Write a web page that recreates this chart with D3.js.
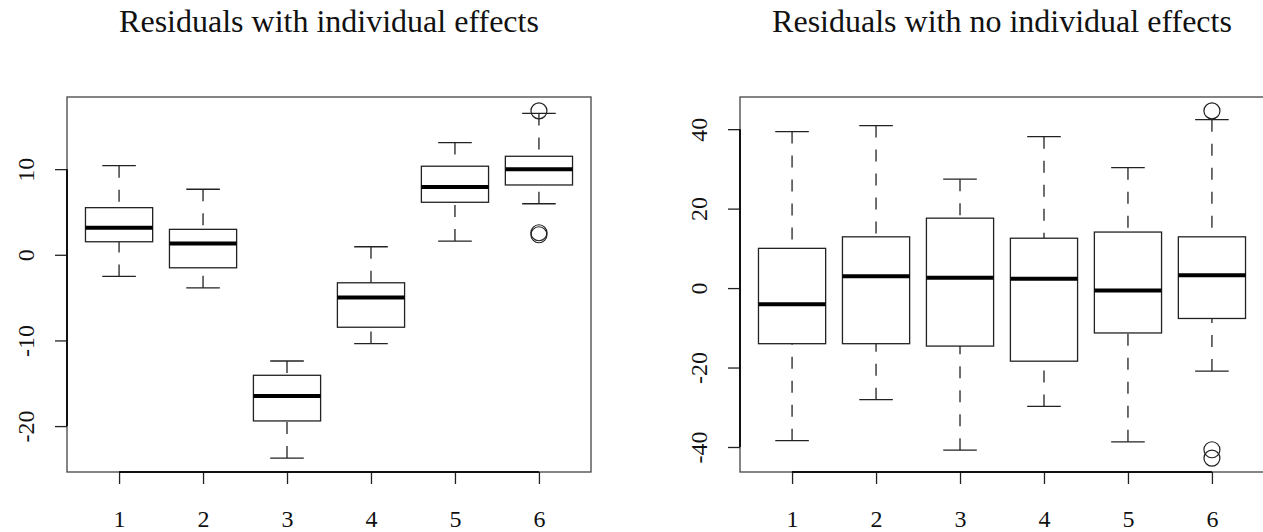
<!DOCTYPE html>
<html>
<head>
<meta charset="utf-8">
<script src="https://cdn.jsdelivr.net/npm/d3@7"></script>
<style>
  html, body { margin: 0; padding: 0; background: #fff; }
  svg { display: block; }
  svg text { font-family: "Liberation Serif", "DejaVu Serif", serif; fill: #111; }
</style>
</head>
<body>
<svg id="chart" width="1263" height="532"></svg>
<script>
// ---- Data ----
const categories = ["1", "2", "3", "4", "5", "6"];

// Panel 1: residuals with individual effects
const title1 = "Residuals with individual effects";
const lowWhisker1 = [-2.53, -3.86, -23.74, -10.37, 1.60, 5.96];
const q1_1        = [1.52, -1.52, -19.40, -8.46, 6.13, 8.15];
const median1     = [3.16, 1.33, -16.50, -4.98, 7.92, 9.99];
const q3_1        = [5.50, 2.97, -14.07, -3.27, 10.34, 11.50];
const highWhisker1= [10.40, 7.65, -12.40, 0.94, 13.10, 16.50];
const outliers1   = [[], [], [], [], [], [16.80, 2.57, 2.34]];
const yTicks1 = [-20, -10, 0, 10];

// Panel 2: residuals with no individual effects
const title2 = "Residuals with no individual effects";
const lowWhisker2 = [-38.4, -28.1, -40.8, -29.8, -38.7, -20.9];
const q1_2        = [-14.0, -14.0, -14.6, -18.4, -11.3, -7.65];
const median2     = [-4.1, 3.0, 2.6, 2.36, -0.6, 3.2];
const q3_2        = [10.0, 12.9, 17.6, 12.55, 14.1, 12.9];
const highWhisker2= [39.4, 40.9, 27.4, 38.1, 30.3, 42.4];
const outliers2   = [[], [], [], [], [], [44.6, -40.7, -42.8]];
const yTicks2 = [-40, -20, 0, 20, 40];

// ---- Drawing ----
const svg = d3.select("#chart");
const plotTop = 97, plotBottom = 472, plotWidth = 524;
const FONT_TICK = 24, FONT_TITLE = 32;
const SERIF = '"Liberation Serif", "DejaVu Serif", serif';

function panel(left, title, lw, q1, med, q3, hw, outs, yTicks) {
  const g = svg.append("g");
  const right = left + plotWidth;

  // R-like 4% range extension
  const allVals = [].concat(lw, hw, ...outs);
  const lo = d3.min(allVals), hi = d3.max(allVals);
  const ext = (hi - lo) * 0.04;
  const y = d3.scaleLinear().domain([lo - ext, hi + ext]).range([plotBottom, plotTop]);
  const n = categories.length;
  const xe = n * 0.04;
  const x = d3.scaleLinear().domain([0.5 - xe / 2, n + 0.5 + xe / 2]).range([left, right]);
  const boxW = x(1.4) - x(1.0);   // boxwex 0.8 -> half width 0.4
  const capW = x(1.2) - x(1.0);   // staple half width 0.2

  const data = categories.map((c, i) => ({
    c, i, pos: i + 1, lw: lw[i], q1: q1[i], med: med[i], q3: q3[i], hw: hw[i], outs: outs[i]
  }));

  const boxes = g.selectAll("g.box").data(data).join("g").attr("class", "box");

  // whiskers (dashed, drawn from whisker end toward box)
  boxes.append("line")
    .attr("x1", d => x(d.pos)).attr("x2", d => x(d.pos))
    .attr("y1", d => y(d.hw)).attr("y2", d => y(d.q3))
    .attr("stroke", "#222").attr("stroke-width", 1.3).attr("stroke-dasharray", "12,12");
  boxes.append("line")
    .attr("x1", d => x(d.pos)).attr("x2", d => x(d.pos))
    .attr("y1", d => y(d.lw)).attr("y2", d => y(d.q1))
    .attr("stroke", "#222").attr("stroke-width", 1.3).attr("stroke-dasharray", "12,12");
  // staples
  boxes.append("line")
    .attr("x1", d => x(d.pos) - capW).attr("x2", d => x(d.pos) + capW)
    .attr("y1", d => y(d.hw)).attr("y2", d => y(d.hw))
    .attr("stroke", "#222").attr("stroke-width", 1.3);
  boxes.append("line")
    .attr("x1", d => x(d.pos) - capW).attr("x2", d => x(d.pos) + capW)
    .attr("y1", d => y(d.lw)).attr("y2", d => y(d.lw))
    .attr("stroke", "#222").attr("stroke-width", 1.3);
  // box
  boxes.append("rect")
    .attr("x", d => x(d.pos) - boxW).attr("width", 2 * boxW)
    .attr("y", d => y(d.q3)).attr("height", d => y(d.q1) - y(d.q3))
    .attr("fill", "#fff").attr("stroke", "#222").attr("stroke-width", 1.3);
  // median
  boxes.append("line")
    .attr("x1", d => x(d.pos) - boxW).attr("x2", d => x(d.pos) + boxW)
    .attr("y1", d => y(d.med)).attr("y2", d => y(d.med))
    .attr("stroke", "#000").attr("stroke-width", 4);
  // outliers
  boxes.selectAll("circle").data(d => d.outs.map(v => ({ pos: d.pos, v }))).join("circle")
    .attr("cx", d => x(d.pos)).attr("cy", d => y(d.v)).attr("r", 8)
    .attr("fill", "none").attr("stroke", "#222").attr("stroke-width", 1.2);

  // frame
  g.append("rect")
    .attr("x", left).attr("y", plotTop).attr("width", plotWidth).attr("height", plotBottom - plotTop)
    .attr("fill", "none").attr("stroke", "#444").attr("stroke-width", 1.3);

  // x axis
  const xAxis = d3.axisBottom(x).tickValues(d3.range(1, n + 1))
    .tickFormat((d, i) => categories[i]).tickSize(12).tickSizeOuter(0);
  const gx = g.append("g").attr("transform", `translate(0,${plotBottom})`).call(xAxis);
  gx.attr("font-family", null).attr("font-size", null);
  gx.select(".domain").remove();
  gx.append("line").attr("x1", x(1)).attr("x2", x(n)).attr("y1", 0).attr("y2", 0)
    .attr("stroke", "#111").attr("stroke-width", 2);
  gx.selectAll(".tick line").attr("stroke", "#222").attr("stroke-width", 1.3);
  gx.selectAll(".tick text")
    .style("font-family", SERIF).style("font-size", FONT_TICK + "px").style("fill", "#111")
    .attr("y", 55).attr("dy", null);

  // y axis (R uses an ASCII hyphen for negatives)
  const yAxis = d3.axisLeft(y).tickValues(yTicks).tickSize(12).tickSizeOuter(0).tickFormat(d => String(d));
  const gy = g.append("g").attr("transform", `translate(${left},0)`).call(yAxis);
  gy.attr("font-family", null).attr("font-size", null);
  gy.select(".domain").remove();
  gy.append("line").attr("x1", 0).attr("x2", 0)
    .attr("y1", y(yTicks[0])).attr("y2", y(yTicks[yTicks.length - 1]))
    .attr("stroke", "#111").attr("stroke-width", 2);
  gy.selectAll(".tick line").attr("stroke", "#222").attr("stroke-width", 1.3);
  gy.selectAll(".tick text")
    .style("font-family", SERIF).style("font-size", FONT_TICK + "px").style("fill", "#111")
    .attr("x", null).attr("dy", null)
    .attr("text-anchor", "middle")
    .attr("transform", "translate(-33.5,0) rotate(-90)");

  // title
  g.append("text")
    .attr("x", (left + right) / 2).attr("y", 32)
    .attr("text-anchor", "middle")
    .style("font-family", SERIF).style("font-size", FONT_TITLE + "px")
    .text(title);
}

panel(67, title1, lowWhisker1, q1_1, median1, q3_1, highWhisker1, outliers1, yTicks1);
panel(740, title2, lowWhisker2, q1_2, median2, q3_2, highWhisker2, outliers2, yTicks2);
</script>
</body>
</html>
